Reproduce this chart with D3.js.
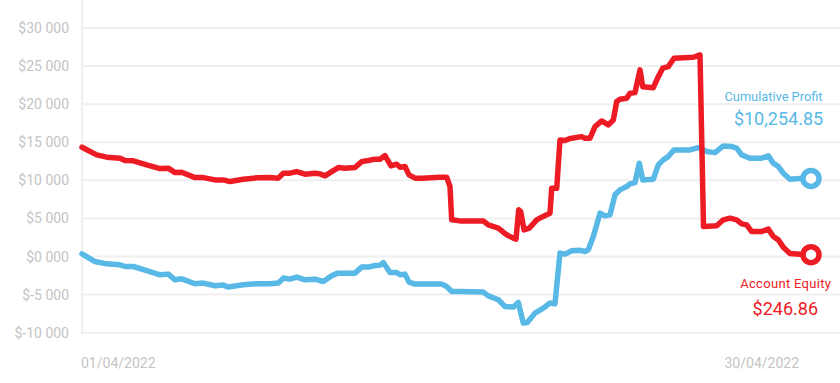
<!DOCTYPE html>
<html>
<head>
<meta charset="utf-8">
<script src="https://cdn.jsdelivr.net/npm/d3@7"></script>
<style>
  html, body { margin: 0; padding: 0; background: #ffffff; }
  svg { display: block; font-family: Roboto, "Noto Sans", sans-serif; }
</style>
</head>
<body>
<svg id="chart" width="840" height="383"></svg>
<script>
// ---- Data (day of April 2022, value in $) ----
const yTicks = [-10000, -5000, 0, 5000, 10000, 15000, 20000, 25000, 30000];
const xTickLabels = ["01/04/2022", "30/04/2022"];
const xTickDays = [1, 30];

const equityDays = [1.00,1.585,1.983,2.512,2.711,3.041,3.574,4.103,4.433,4.700,4.966,5.495,5.825,6.291,6.621,6.887,7.417,7.950,8.479,8.809,9.008,9.274,9.541,9.871,10.269,10.468,10.667,10.933,11.196,11.462,11.860,12.127,12.389,12.656,12.855,13.053,13.292,13.519,13.650,13.849,14.008,14.247,14.513,15.241,15.508,15.639,15.707,16.037,16.964,17.163,17.561,17.895,18.157,18.265,18.372,18.451,18.583,18.794,19.088,19.287,19.486,19.617,19.685,19.884,20.015,20.214,20.413,20.878,21.009,21.208,21.407,21.674,21.937,22.135,22.271,22.402,22.669,22.800,22.999,23.198,23.305,23.727,23.926,24.101,24.323,24.550,25.318,25.584,25.724,26.249,26.511,26.778,27.044,27.243,27.442,27.641,28.039,28.302,28.501,28.700,28.898,29.164,29.560,30.00];
const equityValues = [14350,13340,13040,12910,12600,12560,12030,11550,11600,11020,11070,10360,10360,10060,10060,9840,10150,10330,10360,10290,10940,10940,11150,10810,10940,10850,10590,11150,11680,11600,11680,12460,12600,12780,12780,13250,11900,12120,11730,11810,10720,10290,10290,10400,10420,9184,4820,4680,4680,4160,3730,2850,2410,2280,6130,5900,3500,3730,4820,5170,5470,5690,8970,8970,15310,15220,15500,15740,15530,15530,17060,17800,17280,17930,20340,20650,20780,21440,21520,24500,22300,22170,23620,24720,24930,26030,26160,26460,3940,4030,4820,5040,4820,4290,4160,3280,3280,3600,2620,2190,1230,400,300,246.86];

const profitDays = [1.00,1.517,1.983,2.512,2.711,3.041,3.574,4.103,4.433,4.700,4.966,5.495,5.825,6.291,6.621,6.820,7.417,7.950,8.479,8.809,9.008,9.274,9.541,9.871,10.269,10.599,10.933,11.172,11.860,12.127,12.389,12.656,12.855,12.986,13.252,13.519,13.650,13.849,14.008,14.247,15.309,15.508,15.707,16.037,16.964,17.163,17.561,17.827,18.157,18.356,18.555,18.714,19.020,19.351,19.617,19.816,20.015,20.214,20.480,20.811,21.009,21.141,21.340,21.606,21.805,22.004,22.203,22.402,22.669,22.800,22.999,23.170,23.305,23.727,23.926,24.125,24.323,24.550,25.187,25.517,25.851,26.181,26.511,26.845,27.044,27.243,27.573,28.039,28.302,28.501,28.700,28.898,29.164,29.560,30.00];
const profitValues = [350,-660,-960,-1090,-1310,-1310,-1840,-2400,-2310,-3060,-2930,-3580,-3490,-3840,-3750,-4010,-3710,-3580,-3580,-3490,-2830,-2970,-2700,-3060,-2970,-3280,-2530,-2180,-2180,-1390,-1390,-1180,-1130,-790,-2100,-2100,-2400,-2310,-3360,-3620,-3620,-3940,-4590,-4590,-4670,-5160,-5680,-6560,-6640,-6040,-8740,-8660,-7430,-6770,-6110,-6210,450,310,750,810,660,880,2620,5690,5340,5470,8100,8750,9180,9540,9710,12250,10060,10150,12030,12690,13120,14000,14000,14300,13780,13640,14520,14430,14220,13340,12910,12910,13210,12250,11810,10940,10150,10230,10254.85];

const profitLabel = "Cumulative Profit";
const profitFinal = "$10,254.85";
const equityLabel = "Account Equity";
const equityFinal = "$246.86";

// ---- Styling ----
const BLUE = "#58b8e6";
const RED = "#ed1c24";
const GRID = "#efefef";
const TEXT = "#c4c4c4";

const svg = d3.select("#chart");
const W = 840, H = 383;
const mLeft = 82, mRight = 811, mTop = 28, mBottom = 332.7;

const x = d3.scaleLinear().domain([1, 30]).range([mLeft, mRight]);
const y = d3.scaleLinear().domain([-10000, 30000]).range([mBottom, mTop]);

// Grid lines
svg.append("g").selectAll("line").data(yTicks).join("line")
  .attr("x1", mLeft).attr("x2", W)
  .attr("y1", d => y(d)).attr("y2", d => y(d))
  .attr("stroke", GRID).attr("stroke-width", 2);

// Y axis line
svg.append("line")
  .attr("x1", mLeft).attr("x2", mLeft)
  .attr("y1", 0).attr("y2", y(-10000) + 1)
  .attr("stroke", GRID).attr("stroke-width", 2);

// Y tick labels
const fmtY = d => "$" + (d / 1000) + " 000";
svg.append("g").selectAll("text").data(yTicks).join("text")
  .attr("x", 69).attr("y", d => y(d) + 5)
  .attr("text-anchor", "end")
  .attr("font-size", 14)
  .attr("fill", TEXT)
  .text(fmtY);

// X tick labels
svg.append("g").selectAll("text").data(xTickDays).join("text")
  .attr("x", (d, i) => i === 0 ? x(d) - 1 : x(d) - 12)
  .attr("y", 368)
  .attr("text-anchor", (d, i) => i === 0 ? "start" : "end")
  .attr("font-size", 14)
  .attr("fill", TEXT)
  .text((d, i) => xTickLabels[i]);

const line = d3.line().x(d => x(d[0])).y(d => y(d[1]));

const profitData = profitDays.map((d, i) => [d, profitValues[i]]);
const equityData = equityDays.map((d, i) => [d, equityValues[i]]);

svg.append("path").datum(profitData)
  .attr("d", line).attr("fill", "none")
  .attr("stroke", BLUE).attr("stroke-width", 5.5)
  .attr("stroke-linejoin", "round").attr("stroke-linecap", "round");

svg.append("path").datum(equityData)
  .attr("d", line).attr("fill", "none")
  .attr("stroke", RED).attr("stroke-width", 5.5)
  .attr("stroke-linejoin", "round").attr("stroke-linecap", "round");

// End markers
const lastP = profitData[profitData.length - 1];
const lastE = equityData[equityData.length - 1];
svg.append("circle").attr("cx", x(lastP[0])).attr("cy", y(lastP[1])).attr("r", 8)
  .attr("fill", "#fff").attr("stroke", BLUE).attr("stroke-width", 5.5);
svg.append("circle").attr("cx", x(lastE[0])).attr("cy", y(lastE[1])).attr("r", 8)
  .attr("fill", "#fff").attr("stroke", RED).attr("stroke-width", 5.5);

// Annotations
svg.append("text").attr("x", 773.5).attr("y", 101)
  .attr("text-anchor", "middle").attr("font-size", 12.8).attr("fill", BLUE)
  .text(profitLabel);
svg.append("text").attr("x", 778.5).attr("y", 124.5)
  .attr("text-anchor", "middle").attr("font-size", 18).attr("fill", BLUE)
  .text(profitFinal);
svg.append("text").attr("x", 785.7).attr("y", 288)
  .attr("text-anchor", "middle").attr("font-size", 13).attr("fill", RED)
  .attr("letter-spacing", 0.3)
  .text(equityLabel);
svg.append("text").attr("x", 785.3).attr("y", 314.5)
  .attr("text-anchor", "middle").attr("font-size", 18).attr("fill", RED)
  .text(equityFinal);
</script>
</body>
</html>
